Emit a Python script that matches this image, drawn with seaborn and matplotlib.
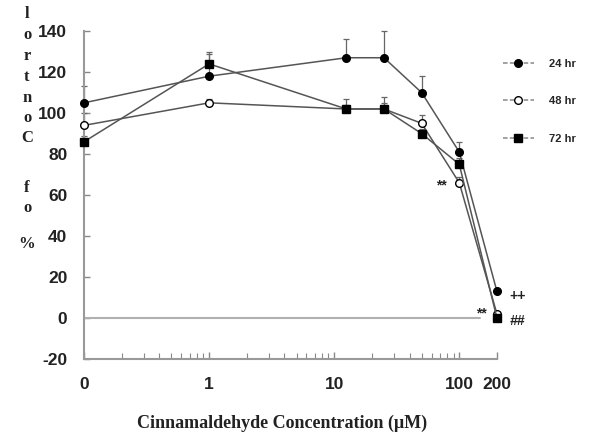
import numpy as np
import pandas as pd
import matplotlib
matplotlib.use("Agg")
import matplotlib.pyplot as plt
import seaborn as sns

# concentrations (0 plotted at 0.1 on the log axis)
conc_labels = ["0", "1", "12.5", "25", "50", "100", "200"]
conc = [0.1, 1, 12.5, 25, 50, 100, 200]
series_names = ["24 hr", "48 hr", "72 hr"]
v24 = [105, 118, 127, 127, 110, 81, 13]
v48 = [94, 105, 102, 102, 95, 66, 2]
v72 = [86, 124, 102, 102, 90, 75, 0]
e24 = [8, 11, 9, 13, 8, 5, 0]
e48 = [6, 2, 2, 3, 4, 3, 0]
e72 = [3, 6, 5, 6, 2, 3, 0]
xtick_vals = [0.1, 1, 10, 100, 200]
xtick_labels = ["0", "1", "10", "100", "200"]
yticks = [-20, 0, 20, 40, 60, 80, 100, 120, 140]

sns.set_style("white")
plt.rcParams["axes.unicode_minus"] = False
fig = plt.figure(figsize=(5.93, 4.32), dpi=100)
ax = fig.add_axes([0.1417, 0.169, 0.838 - 0.1417, 0.928 - 0.169])

line_col = "#555555"
styles = [
    dict(marker="o", markerfacecolor="black", markeredgecolor="black"),
    dict(marker="o", markerfacecolor="white", markeredgecolor="black"),
    dict(marker="s", markerfacecolor="black", markeredgecolor="black"),
]
vals = [v24, v48, v72]
errs = [e24, e48, e72]

# reference line at 0
ax.axhline(0, color="#b0b0b0", lw=1.5, xmax=0.96, zorder=1)

for name, v, e, st in zip(series_names, vals, errs, styles):
    ax.errorbar(conc, v, yerr=[np.zeros(len(e)), e], fmt="none",
                ecolor="#666666", elinewidth=0.9, capsize=2.5, capthick=0.9,
                zorder=2, clip_on=False)
    df = pd.DataFrame({"conc": conc, "val": v})
    sns.lineplot(data=df, x="conc", y="val", ax=ax, color=line_col, lw=1.1,
                 markersize=5.5, markeredgewidth=1.0, label=name, zorder=3,
                 clip_on=False, **st)

ax.set_xscale("log")
ax.set_xlim(0.1, 200)
ax.set_ylim(-20, 140)
ax.set_yticks(yticks)
ax.set_xticks(xtick_vals)
ax.set_xticklabels(xtick_labels)
ax.xaxis.set_minor_locator(matplotlib.ticker.LogLocator(base=10, subs=np.arange(2, 10)))
ax.xaxis.set_minor_formatter(matplotlib.ticker.NullFormatter())
ax.tick_params(axis="both", which="both", direction="in", color="#888888",
               bottom=True, left=True, top=False, right=False)
ax.tick_params(axis="y", which="major", length=4, width=1, pad=12)
ax.tick_params(axis="x", which="major", length=5, width=1, pad=13)
ax.tick_params(axis="x", which="minor", length=4, width=0.8)
for lab in ax.get_xticklabels() + ax.get_yticklabels():
    lab.set_fontfamily("Liberation Sans")
    lab.set_fontweight("bold")
    lab.set_fontsize(12.5)
    lab.set_color("#222222")

sns.despine(ax=ax)
for s in ["left", "bottom"]:
    ax.spines[s].set_color("#999999")
    ax.spines[s].set_linewidth(1.5)

ax.set_xlabel("Cinnamaldehyde Concentration (\u03bcM)", fontfamily="Liberation Serif",
              fontweight="bold", fontsize=13, color="#222222")
ax.xaxis.set_label_coords(0.48, -0.17)
ax.set_ylabel("")

# stacked vertical y label (reads "% of Control" bottom to top)
ylab_chars = ["l", "o", "r", "t", "n", "o", "C", "f", "o", "%"]
ylab_pix = [14, 35, 56, 77, 98, 118, 138, 188, 208, 244]
for ch, py in zip(ylab_chars, ylab_pix):
    fig.text(27 / 593, 1 - py / 432, ch, ha="center", va="center",
             fontfamily="Liberation Serif", fontweight="bold", fontsize=12,
             color="#222222")

# significance markers
akw = dict(fontfamily="Liberation Sans", fontweight="bold", fontsize=10, color="#222222",
           textcoords="offset points", annotation_clip=False)
ax.annotate("**", (100, 66), xytext=(-13, -2), ha="center", va="center", **akw)
ax.annotate("++", (200, 13), xytext=(15, -3), ha="center", va="center", **akw)
ax.annotate("**", (200, 0), xytext=(-11, 3), ha="center", va="center", **akw)
ax.annotate("##", (200, 0), xytext=(15, -2), ha="center", va="center",
            fontstyle="italic", **akw)

leg = ax.legend(loc="upper left", bbox_to_anchor=(0.99, 0.945), frameon=False,
                handlelength=2.8, handletextpad=1.4, labelspacing=2.45, borderaxespad=0.5,
                prop={"family": "Liberation Sans", "weight": "bold", "size": 8})
for h in leg.legend_handles:
    h.set_linestyle((0, (3, 1.5)))
    h.set_color("#888888")

fig.savefig("out.png", dpi=100)
